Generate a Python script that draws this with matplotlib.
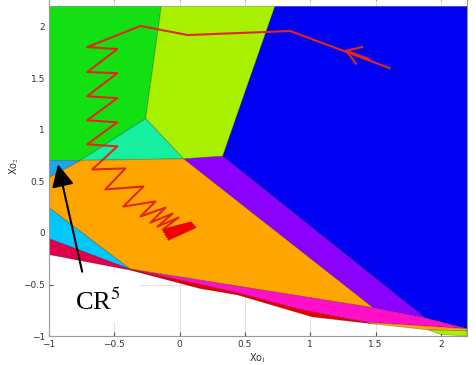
import matplotlib
matplotlib.use("Agg")
import matplotlib.pyplot as plt
from matplotlib.patches import Polygon, Rectangle

# region vertices (Xo1, Xo2)
green = [(-1, 2.2), (-0.14, 2.2), (-0.26, 1.11), (-0.76, 0.705), (-1, 0.705)]
yellowgreen = [(-0.14, 2.2), (0.73, 2.2), (0.33, 0.745), (0.03, 0.72), (-0.26, 1.11)]
teal = [(-0.26, 1.11), (0.03, 0.72), (-0.76, 0.705)]
blue = [(0.73, 2.2), (2.2, 2.2), (2.2, -0.93), (1.88, -0.825), (0.33, 0.745)]
purple = [(0.03, 0.72), (0.33, 0.745), (1.88, -0.825), (1.48, -0.725)]
orange = [(-1, 0.54), (-0.76, 0.705), (0.03, 0.72), (1.48, -0.725), (-0.38, -0.35), (-1, 0.245)]
lightblue1 = [(-1, 0.705), (-0.76, 0.705), (-1, 0.54)]
lightblue2 = [(-1, 0.245), (-0.38, -0.35), (-1, -0.055)]
crimson = [(-1, -0.055), (-0.38, -0.35), (-0.38, -0.36), (-1, -0.21)]
magenta = [(-0.38, -0.35), (1.48, -0.725), (1.88, -0.825), (2.2, -0.93),
           (1.42, -0.865), (0.93, -0.745), (0.44, -0.58)]
red = [(-0.38, -0.35), (0.44, -0.58), (0.93, -0.745), (1.42, -0.865), (1.5, -0.885),
       (1.015, -0.814), (0.44, -0.6), (0.16, -0.54), (-0.38, -0.36)]
orange2 = [(1.42, -0.865), (2.2, -0.93), (2.2, -0.95), (1.9, -0.94), (1.5, -0.885)]
yellowgreen2 = [(1.9, -0.94), (2.2, -0.95), (2.2, -1.0), (2.0, -0.985)]

regions = [
    (green, '#12e012'), (yellowgreen, '#a8f000'), (teal, '#14f0a0'),
    (blue, '#0000f2'), (purple, '#8c00ff'), (orange, '#ffa500'),
    (lightblue1, '#1aa7ec'), (lightblue2, '#00c8ff'), (crimson, '#e0004a'),
    (magenta, '#ff10c8'), (red, '#e80000'), (orange2, '#ffa500'),
    (yellowgreen2, '#a8f000'),
]

# state trajectory
traj_x = [1.608, 0.846, 0.062, -0.300, -0.708, -0.477, -0.708, -0.477, -0.708, -0.477,
          -0.708, -0.477, -0.708, -0.477, -0.669, -0.415, -0.569, -0.277, -0.431, -0.185,
          -0.300, -0.108, -0.223, -0.054, -0.169, -0.008, -0.131, 0.090, -0.120, 0.100,
          -0.110, 0.110, -0.100, 0.120, -0.085]
traj_y = [1.601, 1.961, 1.922, 2.010, 1.805, 1.786, 1.562, 1.552, 1.328, 1.309,
          1.094, 1.075, 0.861, 0.841, 0.617, 0.627, 0.423, 0.452, 0.257, 0.306,
          0.160, 0.247, 0.101, 0.189, 0.062, 0.150, 0.033, 0.100, 0.010, 0.085,
          -0.015, 0.070, -0.040, 0.055, -0.064]
# end cluster, drawn solid
cluster = [(-0.131, 0.033), (0.085, 0.111), (0.123, 0.053), (-0.085, -0.064)]

xticks = [-1, -0.5, 0, 0.5, 1, 1.5, 2]
yticks = [-1, -0.5, 0, 0.5, 1, 1.5, 2]

plt.rcParams['mathtext.fontset'] = 'stix'

fig = plt.figure(figsize=(4.76, 3.65), dpi=100)
ax = fig.add_axes([49 / 476, 29 / 365, 418 / 476, 339.9 / 365])

for verts, col in regions:
    ax.add_patch(Polygon(verts, closed=True, facecolor=col,
                         edgecolor=(0, 0, 0, 0.25), lw=0.6, zorder=1))

ax.plot(traj_x, traj_y, color='#e0281a', lw=1.5, zorder=3)
ax.add_patch(Polygon(cluster, closed=True, facecolor='#f00000', edgecolor='none', zorder=3))

# direction arrow on trajectory
ax.annotate('', xy=(1.262, 1.776), xytext=(1.45, 1.69),
            arrowprops=dict(arrowstyle='->,head_length=1.0,head_width=0.65',
                            color='#e0281a', lw=1.5, shrinkA=0, shrinkB=0), zorder=4)

# CR^5 label
ax.add_patch(Rectangle((-0.955, -0.86), 0.655, 0.474, facecolor='white',
                       edgecolor='none', zorder=5))
ax.annotate('', xy=(-0.931, 0.666), xytext=(-0.746, -0.376),
            arrowprops=dict(arrowstyle='-|>,head_length=0.68,head_width=0.34',
                            mutation_scale=20, color='black', lw=1.5,
                            shrinkA=0, shrinkB=0), zorder=6)
ax.text(-0.8, -0.746, r'CR$^5$', fontsize=19, family='Liberation Serif',
        ha='left', va='baseline', zorder=6)

ax.set_xlim(-1, 2.2)
ax.set_ylim(-1, 2.3)
ax.set_xticks(xticks)
ax.set_yticks(yticks)
ax.set_xticklabels(['\u22121', '\u22120.5', '0', '0.5', '1', '1.5', '2'])
ax.set_yticklabels(['\u22121', '\u22120.5', '0', '0.5', '1', '1.5', '2'])
ax.grid(True, color='#e2e2e2', lw=0.8)
ax.set_axisbelow(True)
ax.tick_params(direction='in', length=3, top=True, right=True,
               labelsize=6.5, colors='#555555', labelcolor='#333333', pad=3)
for s in ax.spines.values():
    s.set_color('#999999')
    s.set_linewidth(0.8)

ax.set_xlabel(r'Xo$_1$', fontsize=7, color='#333333', labelpad=2)
ax.set_ylabel(r'Xo$_2$', fontsize=7, color='#333333')
ax.yaxis.set_label_coords(-0.068, 0.5)

fig.savefig('out.png', dpi=100)
